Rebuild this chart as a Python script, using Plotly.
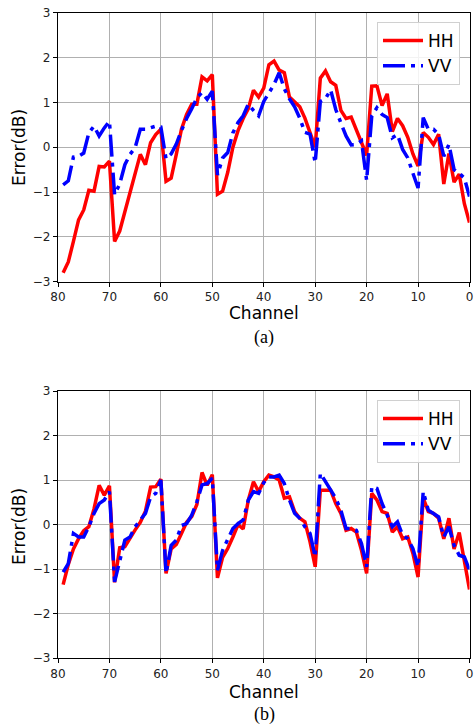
import plotly.graph_objects as go

channels = list(range(79, -1, -1))

hh_a = [-2.80, -2.56, -2.10, -1.62, -1.40, -0.96, -0.98, -0.43, -0.44, -0.31,
        -2.10, -1.87, -1.44, -0.99, -0.58, -0.16, -0.39, 0.10, 0.28, 0.40,
        -0.76, -0.69, -0.16, 0.40, 0.73, 0.96, 0.96, 1.57, 1.48, 1.62,
        -1.05, -0.98, -0.56, 0.00, 0.37, 0.64, 0.86, 1.27, 1.12, 1.32,
        1.84, 1.92, 1.72, 1.66, 1.12, 1.00, 0.90, 0.65, 0.33, 0.00,
        1.54, 1.70, 1.46, 1.38, 0.82, 0.64, 0.67, 0.38, 0.08, -0.18,
        1.36, 1.37, 0.93, 1.19, 0.35, 0.64, 0.48, 0.22, -0.15, -0.42,
        0.33, 0.22, 0.06, 0.29, -0.82, -0.14, -0.78, -0.60, -1.26, -1.68]

vv_a = [-0.84, -0.75, -0.22, -0.20, -0.13, 0.32, 0.47, 0.25, 0.43, 0.58,
        -1.06, -0.82, -0.39, -0.16, -0.01, 0.40, 0.40, 0.43, 0.47, 0.45,
        -0.26, -0.15, 0.07, 0.37, 0.64, 0.86, 1.10, 1.22, 1.07, 1.25,
        -0.62, -0.24, -0.12, 0.32, 0.55, 0.70, 0.96, 0.82, 0.70, 1.02,
        1.22, 1.40, 1.66, 1.30, 1.08, 0.90, 0.65, 0.33, 0.29, -0.35,
        1.02, 1.08, 1.28, 0.84, 0.54, 0.25, 0.05, 0.06, 0.14, -0.74,
        0.70, 0.88, 0.73, 0.66, 0.21, 0.28, -0.05, -0.24, -0.58, -0.91,
        0.66, 0.40, 0.40, 0.28, -0.20, 0.06, -0.50, -0.58, -0.69, -1.10]

hh_b = [-1.35, -0.90, -0.55, -0.32, -0.14, -0.05, 0.35, 0.88, 0.66, 0.87,
        -1.30, -0.52, -0.50, -0.30, -0.12, 0.05, 0.30, 0.84, 0.85, 1.02,
        -1.10, -0.55, -0.45, -0.20, 0.05, 0.18, 0.45, 1.17, 0.88, 1.12,
        -1.20, -0.74, -0.54, -0.28, 0.00, -0.10, 0.55, 0.96, 0.74, 0.96,
        1.11, 1.07, 1.00, 0.59, 0.62, 0.29, 0.14, 0.06, -0.39, -0.95,
        0.77, 0.77, 0.77, 0.47, 0.25, -0.13, -0.09, -0.17, -0.58, -1.10,
        0.70, 0.55, 0.29, 0.25, -0.17, -0.05, -0.32, -0.28, -0.65, -1.18,
        0.59, 0.29, 0.25, 0.14, -0.32, 0.14, -0.55, -0.18, -0.85, -1.46]

vv_b = [-1.07, -0.88, -0.20, -0.28, -0.28, -0.05, 0.25, 0.47, 0.55, 0.74,
        -1.29, -0.80, -0.35, -0.28, -0.05, 0.10, 0.25, 0.62, 0.70, 1.00,
        -1.10, -0.47, -0.35, -0.02, 0.02, 0.21, 0.51, 0.89, 0.92, 1.04,
        -1.03, -0.58, -0.35, -0.09, 0.02, 0.10, 0.55, 0.74, 0.70, 0.94,
        1.07, 1.07, 1.11, 0.92, 0.55, 0.25, 0.14, -0.05, -0.20, -0.73,
        1.15, 0.96, 0.77, 0.59, 0.32, -0.09, -0.09, -0.13, -0.43, -0.95,
        0.85, 0.81, 0.47, 0.21, -0.05, 0.06, -0.24, -0.32, -0.54, -0.95,
        0.74, 0.32, 0.25, 0.17, -0.28, -0.05, -0.47, -0.69, -0.73, -1.03]

x_ticks = [80, 70, 60, 50, 40, 30, 20, 10, 0]
x_tick_text = ["80", "70", "60", "50", "40", "30", "20", "10", "0"]
y_ticks = [-3, -2, -1, 0, 1, 2, 3]
y_tick_text = ["\u22123", "\u22122", "\u22121", "0", "1", "2", "3"]

W, H = 474, 725
FONT = "DejaVu Sans"
RED = "#ff0000"
BLUE = "#0000ff"
DASH = "22px,6px,4px,6px"

fig = go.Figure()
fig.add_trace(go.Scatter(x=channels, y=hh_a, mode="lines", name="HH",
                         line=dict(color=RED, width=3.5), xaxis="x", yaxis="y",
                         legend="legend"))
fig.add_trace(go.Scatter(x=channels, y=vv_a, mode="lines", name="VV",
                         line=dict(color=BLUE, width=3.5, dash=DASH), xaxis="x", yaxis="y",
                         legend="legend"))
fig.add_trace(go.Scatter(x=channels, y=hh_b, mode="lines", name="HH",
                         line=dict(color=RED, width=3.5), xaxis="x2", yaxis="y2",
                         legend="legend2"))
fig.add_trace(go.Scatter(x=channels, y=vv_b, mode="lines", name="VV",
                         line=dict(color=BLUE, width=3.5, dash=DASH), xaxis="x2", yaxis="y2",
                         legend="legend2"))

xdom = [58 / W, 469.5 / W]
top_dom = [1 - 281.7 / H, 1 - 12.7 / H]
bot_dom = [1 - 658 / H, 1 - 391 / H]

def xaxis(anchor):
    return dict(domain=xdom, anchor=anchor, range=[80, 0], tickmode="array",
                tickvals=x_ticks, ticktext=x_tick_text, showgrid=True,
                gridcolor="#b0b0b0", gridwidth=1, showline=True, mirror=True,
                linecolor="black", linewidth=1.2, ticks="outside", ticklen=4,
                tickcolor="black", tickfont=dict(family=FONT, size=12, color="#222"),
                zeroline=False, automargin=False, ticklabeloverflow="allow")

def yaxis(anchor, dom):
    return dict(domain=dom, anchor=anchor, range=[-3, 3], tickmode="array",
                tickvals=y_ticks, ticktext=y_tick_text, showgrid=True,
                gridcolor="#b0b0b0", gridwidth=1, showline=True, mirror=True,
                linecolor="black", linewidth=1.2, ticks="outside", ticklen=4,
                tickcolor="black", tickfont=dict(family=FONT, size=12, color="#222"),
                zeroline=False, automargin=False, ticklabeloverflow="allow")

leg_common = dict(xanchor="right", yanchor="top", bgcolor="rgba(255,255,255,0.85)",
                  bordercolor="#d0d0d0", borderwidth=1, itemwidth=40,
                  font=dict(family=FONT, size=17, color="black"))

fig.update_layout(
    template="none",
    width=W, height=H,
    margin=dict(l=0, r=0, t=0, b=0, autoexpand=False),
    paper_bgcolor="white", plot_bgcolor="white",
    xaxis=xaxis("y"), yaxis=yaxis("x", top_dom),
    xaxis2=xaxis("y2"), yaxis2=yaxis("x2", bot_dom),
    legend=dict(x=460 / W, y=1 - 22 / H, **leg_common),
    legend2=dict(x=460 / W, y=1 - 400 / H, **leg_common),
    annotations=[
        dict(text="Error(dB)", xref="paper", yref="paper", x=19 / W, y=1 - 148 / H,
             textangle=-90, showarrow=False, xanchor="center", yanchor="middle",
             font=dict(family=FONT, size=17, color="black")),
        dict(text="Error(dB)", xref="paper", yref="paper", x=19 / W, y=1 - 527 / H,
             textangle=-90, showarrow=False, xanchor="center", yanchor="middle",
             font=dict(family=FONT, size=17, color="black")),
        dict(text="Channel", xref="paper", yref="paper", x=264 / W, y=1 - 313 / H,
             showarrow=False, xanchor="center", yanchor="middle",
             font=dict(family=FONT, size=17, color="black")),
        dict(text="(a)", xref="paper", yref="paper", x=264 / W, y=1 - 338 / H,
             showarrow=False, xanchor="center", yanchor="middle",
             font=dict(family="Liberation Serif", size=18, color="black")),
        dict(text="Channel", xref="paper", yref="paper", x=264 / W, y=1 - 692 / H,
             showarrow=False, xanchor="center", yanchor="middle",
             font=dict(family=FONT, size=17, color="black")),
        dict(text="(b)", xref="paper", yref="paper", x=264 / W, y=1 - 714 / H,
             showarrow=False, xanchor="center", yanchor="middle",
             font=dict(family="Liberation Serif", size=18, color="black")),
    ],
)

fig.write_html("out.html", config={"displayModeBar": False},
               post_script="document.body.style.margin='0px';"
               "document.body.style.overflow='hidden';")
